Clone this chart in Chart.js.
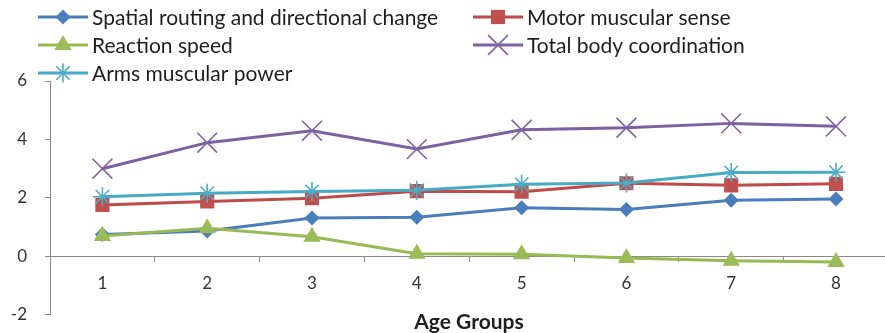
<!DOCTYPE html>
<html>
<head>
<meta charset="utf-8">
<script src="https://cdn.jsdelivr.net/npm/chart.js@4.4.1/dist/chart.umd.min.js"></script>
<style>
  html, body { margin: 0; padding: 0; background: #fff; overflow: hidden; }
  #wrap { position: relative; width: 904px; height: 343px; }
</style>
</head>
<body>
<div id="wrap"><canvas id="ageChart"></canvas></div>
<script>
const ageGroups = ['1', '2', '3', '4', '5', '6', '7', '8'];

const spatialRouting = [0.75, 0.87, 1.31, 1.34, 1.66, 1.60, 1.92, 1.96];
const motorSense     = [1.76, 1.88, 1.99, 2.23, 2.21, 2.50, 2.43, 2.48];
const reactionSpeed  = [0.70, 0.96, 0.67, 0.09, 0.07, -0.06, -0.15, -0.19];
const bodyCoord      = [3.00, 3.89, 4.30, 3.67, 4.33, 4.40, 4.55, 4.45];
const armsPower      = [2.04, 2.16, 2.22, 2.26, 2.47, 2.51, 2.87, 2.88];

const yTicks = [-2, 0, 2, 4, 6];

const FONT = 'Lato, "Open Sans", sans-serif';
const AXIS_GREY = '#8a8a8a';

// [label, values, line colour, marker colour, pointStyle, radius, filled]
const seriesDefs = [
  ['Spatial routing and directional change', spatialRouting, '#4a7ebb', '#4a7ebb', 'rectRot', 7.5, true],
  ['Motor muscular sense', motorSense, '#be4b48', '#c0504d', 'rect', 10, true],
  ['Reaction speed', reactionSpeed, '#98b954', '#9bbb59', 'triangle', 10, true],
  ['Total body coordination', bodyCoord, '#7d60a0', '#8064a2', 'crossRot', 14, false],
  ['Arms muscular power', armsPower, '#46aac5', '#4bacc6', 'star', 9.5, false]
];

const datasets = seriesDefs.map((s, i) => ({
  label: s[0],
  data: s[1],
  borderColor: s[2],
  backgroundColor: s[3],
  pointBackgroundColor: s[3],
  pointBorderColor: s[3],
  pointStyle: s[4],
  pointRadius: s[5],
  pointBorderWidth: s[6] ? 0 : 1.6,
  borderWidth: 3,
  tension: 0,
  order: seriesDefs.length - i
}));

// Legend laid out in two columns, filled row by row
const legendSlots = [
  { x: 38, y: 17 }, { x: 473, y: 17 },
  { x: 38, y: 45 }, { x: 473, y: 45 },
  { x: 38, y: 73 }
];

const sideLegend = {
  id: 'sideLegend',
  afterDraw(chart) {
    const ctx = chart.ctx;
    chart.data.datasets.forEach((ds, i) => {
      const slot = legendSlots[i];
      ctx.save();
      ctx.strokeStyle = ds.borderColor;
      ctx.lineWidth = 3;
      ctx.beginPath();
      ctx.moveTo(slot.x, slot.y);
      ctx.lineTo(slot.x + 50, slot.y);
      ctx.stroke();
      ctx.fillStyle = ds.pointBackgroundColor;
      ctx.strokeStyle = ds.pointBorderColor;
      ctx.lineWidth = ds.pointBorderWidth;
      Chart.helpers.drawPoint(ctx, {
        pointStyle: ds.pointStyle,
        radius: ds.pointRadius,
        rotation: 0,
        borderWidth: ds.pointBorderWidth
      }, slot.x + 25, slot.y);
      ctx.fillStyle = '#1e1e1e';
      ctx.font = '21px ' + FONT;
      ctx.textBaseline = 'middle';
      ctx.textAlign = 'left';
      ctx.fillText(ds.label, slot.x + 54, slot.y + 1);
      ctx.restore();
    });

    // axis title under the plot
    ctx.save();
    ctx.fillStyle = '#1e1e1e';
    ctx.font = 'bold 21px ' + FONT;
    ctx.textAlign = 'center';
    ctx.textBaseline = 'middle';
    ctx.fillText('Age Groups', 469, 322);
    ctx.restore();
  }
};

new Chart(document.getElementById('ageChart'), {
  type: 'line',
  data: { labels: ageGroups, datasets: datasets },
  options: {
    responsive: true,
    maintainAspectRatio: false,
    animation: false,
    layout: { padding: { top: 81, bottom: 16, left: 0, right: 0 } },
    plugins: {
      legend: { display: false },
      tooltip: { enabled: false }
    },
    scales: {
      x: {
        type: 'category',
        position: { y: 0 },
        offset: true,
        grid: {
          display: true,
          offset: true,
          drawOnChartArea: false,
          drawTicks: true,
          tickLength: 5,
          color: AXIS_GREY
        },
        border: { display: true, color: AXIS_GREY, width: 1 },
        ticks: {
          color: '#333',
          font: { family: FONT, size: 17 },
          padding: 12,
          maxRotation: 0
        }
      },
      y: {
        min: -2,
        max: 6,
        afterFit(scale) { scale.width = 50; },
        afterBuildTicks(scale) { scale.ticks = yTicks.map(v => ({ value: v })); },
        grid: {
          drawOnChartArea: false,
          drawTicks: true,
          tickLength: 5,
          color: AXIS_GREY
        },
        border: { display: true, color: AXIS_GREY, width: 1 },
        ticks: {
          color: '#333',
          font: { family: FONT, size: 17 },
          padding: 18
        }
      }
    }
  },
  plugins: [sideLegend]
});
</script>
</body>
</html>
